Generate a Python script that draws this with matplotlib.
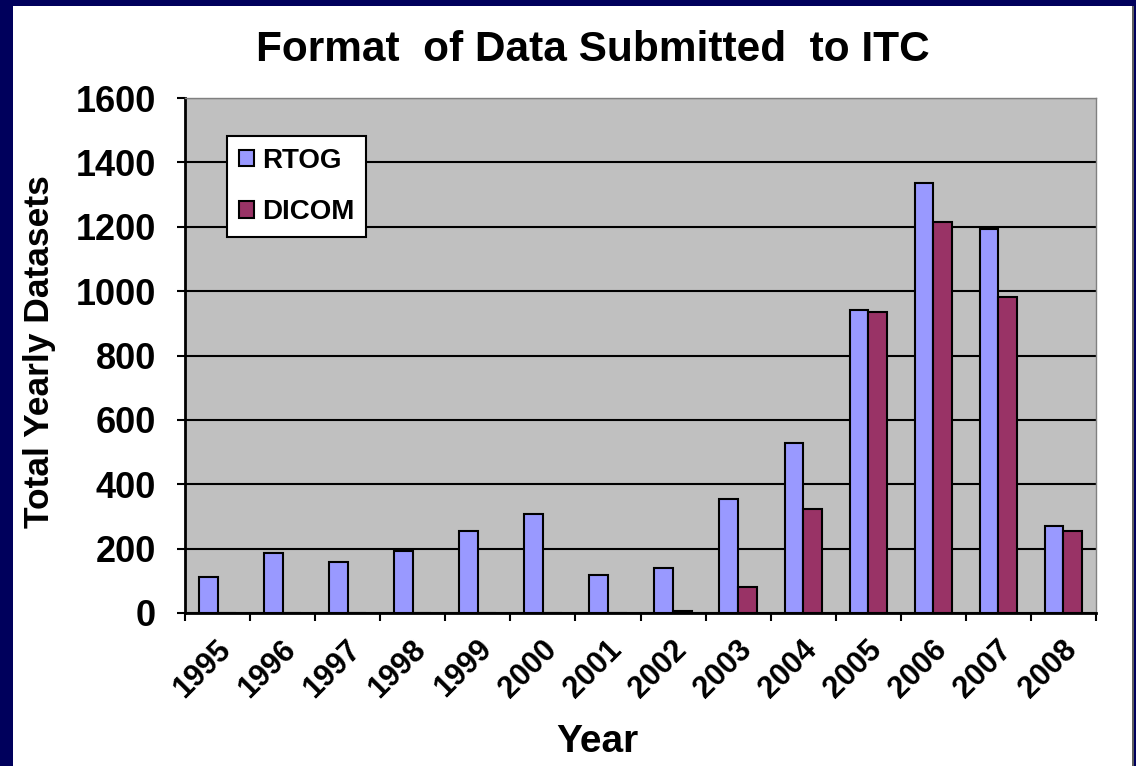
import numpy as np
import matplotlib
matplotlib.use("Agg")
import matplotlib.pyplot as plt
import matplotlib.transforms as mtransforms
from matplotlib.patches import Rectangle

# data
years = ['1995', '1996', '1997', '1998', '1999', '2000', '2001',
         '2002', '2003', '2004', '2005', '2006', '2007', '2008']
rtog = [112, 186, 158, 193, 255, 307, 118, 140, 354, 528, 941, 1335, 1192, 270]
dicom = [0, 0, 0, 0, 0, 0, 0, 5, 81, 323, 935, 1214, 981, 255]

plt.rcParams['font.family'] = ['Liberation Sans', 'DejaVu Sans']
plt.rcParams['font.weight'] = 'bold'

W, H = 1136, 766
fig = plt.figure(figsize=(W / 100, H / 100), dpi=100, facecolor='#00005c')

# white panel inside the navy frame
fig.add_artist(Rectangle((13 / W, 0), 1120 / W, 1 - 6 / H, transform=fig.transFigure,
                         facecolor='white', edgecolor='none', zorder=-5))
fig.add_artist(Rectangle((1132 / W, 0), 2 / W, 1 - 6 / H, transform=fig.transFigure,
                         facecolor='#606060', edgecolor='none', zorder=-5))

ax = fig.add_axes([185 / W, 1 - 613 / H, 911 / W, 515 / H])
ax.set_facecolor('#C0C0C0')

x = np.arange(len(years))
bw = 0.286
ax.bar(x - bw / 2, rtog, bw, color='#9999FF', edgecolor='black', linewidth=1.5,
       label='RTOG', zorder=3)
ax.bar(x + bw / 2, dicom, bw, color='#993366', edgecolor='black', linewidth=1.5,
       label='DICOM', zorder=3)

ax.set_xlim(-0.5, len(years) - 0.5)
ax.set_ylim(0, 1600)
ax.set_yticks(np.arange(0, 1601, 200))
ax.yaxis.grid(True, color='black', linewidth=1.5, zorder=1)
ax.set_axisbelow(True)

ax.set_xticks(x)
ax.set_xticks(np.arange(-0.5, len(years), 1.0), minor=True)
ax.tick_params(axis='x', which='major', length=0, pad=23)
ax.tick_params(axis='x', which='minor', length=6, width=1.5, direction='out')
ax.tick_params(axis='y', length=6, width=1.5, direction='out', labelsize=26, pad=15)
ax.set_xticklabels(years, rotation=45, ha='right', va='center', rotation_mode='anchor',
                   fontsize=22, fontweight='bold')
shift = mtransforms.ScaledTranslation(0.09, 0, fig.dpi_scale_trans)
for lab in ax.get_xticklabels():
    lab.set_transform(lab.get_transform() + shift)
for lab in ax.get_yticklabels():
    lab.set_fontweight('bold')

for s in ['left', 'bottom']:
    ax.spines[s].set_linewidth(2)
    ax.spines[s].set_color('black')
for s in ['top', 'right']:
    ax.spines[s].set_linewidth(1)
    ax.spines[s].set_color('#808080')

leg = ax.legend(loc='upper left', bbox_to_anchor=(0.046, 0.926), frameon=True,
                fancybox=False, edgecolor='black', framealpha=1, borderaxespad=0,
                prop={'size': 20, 'weight': 'bold'}, handlelength=0.55, handleheight=0.55,
                handletextpad=0.3, labelspacing=0.92, borderpad=0.42)
leg.get_frame().set_linewidth(1.5)

fig.text(593 / W, 1 - 50 / H, 'Format  of Data Submitted  to ITC', ha='center', va='center',
         fontsize=30.5, fontweight='bold')
fig.text(597 / W, 1 - 742 / H, 'Year', ha='center', va='center', fontsize=28, fontweight='bold')
fig.text(40 / W, 1 - 352 / H, 'Total Yearly Datasets', ha='center', va='center', rotation=90,
         fontsize=25.5, fontweight='bold')

fig.savefig('out.png', dpi=100, facecolor=fig.get_facecolor())
